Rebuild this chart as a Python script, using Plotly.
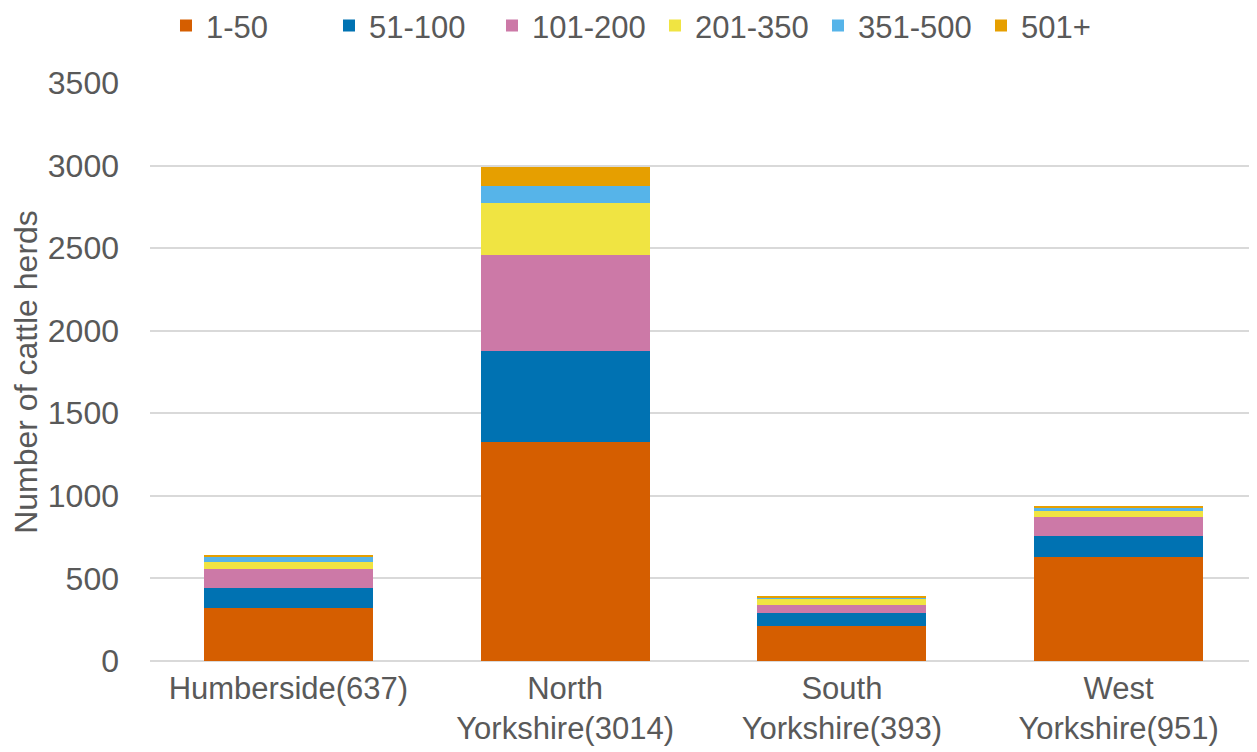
import plotly.graph_objects as go

categories = ["Humberside(637)", "North<br>Yorkshire(3014)", "South<br>Yorkshire(393)", "West<br>Yorkshire(951)"]
series_names = ["1-50", "51-100", "101-200", "201-350", "351-500", "501+"]
herds_1_50 = [319, 1325, 214, 627]
herds_51_100 = [124, 555, 76, 127]
herds_101_200 = [115, 578, 49, 117]
herds_201_350 = [43, 313, 42, 38]
herds_351_500 = [26, 103, 4, 15]
herds_501_plus = [14, 116, 8, 14]
y_ticks = [0, 500, 1000, 1500, 2000, 2500, 3000, 3500]

colors = ["#D55E00", "#0072B2", "#CC79A7", "#F0E442", "#56B4E9", "#E69F00"]
series_values = [herds_1_50, herds_51_100, herds_101_200, herds_201_350, herds_351_500, herds_501_plus]

FONT = "Liberation Sans, Arial, sans-serif"
GRAY = "#595959"

fig = go.Figure()
for name, vals, col in zip(series_names, series_values, colors):
    fig.add_trace(go.Bar(x=categories, y=vals, name=name, marker=dict(color=col, line=dict(width=0))))

fig.update_layout(
    barmode="stack",
    bargap=0.39,
    width=1249, height=744,
    margin=dict(l=142, r=0, t=75, b=91, autoexpand=False),
    paper_bgcolor="white", plot_bgcolor="white",
    font=dict(family=FONT, size=32, color=GRAY),
    legend=dict(
        orientation="h",
        xref="container", yref="container",
        x=0.1265, xanchor="left",
        y=0.976, yanchor="middle",
        font=dict(size=31, color=GRAY),
        entrywidth=118,
        itemwidth=30,
        traceorder="normal",
    ),
    showlegend=True,
)
fig.update_xaxes(
    showgrid=False, showline=False, zeroline=False,
    tickfont=dict(size=31, color=GRAY),
    ticks="", ticklabelstandoff=6, automargin=False,
)
fig.update_yaxes(
    range=[0, 3500], tickvals=y_ticks,
    showgrid=True, gridcolor="#D9D9D9", gridwidth=1.5,
    zeroline=True, zerolinecolor="#D9D9D9", zerolinewidth=1.5,
    showline=False, automargin=False,
    tickfont=dict(size=32, color=GRAY),
    ticks="", ticklabelstandoff=30,
    title=dict(text="Number of cattle herds", font=dict(size=32, color=GRAY), standoff=8),
)

fig.write_html("out.html")
